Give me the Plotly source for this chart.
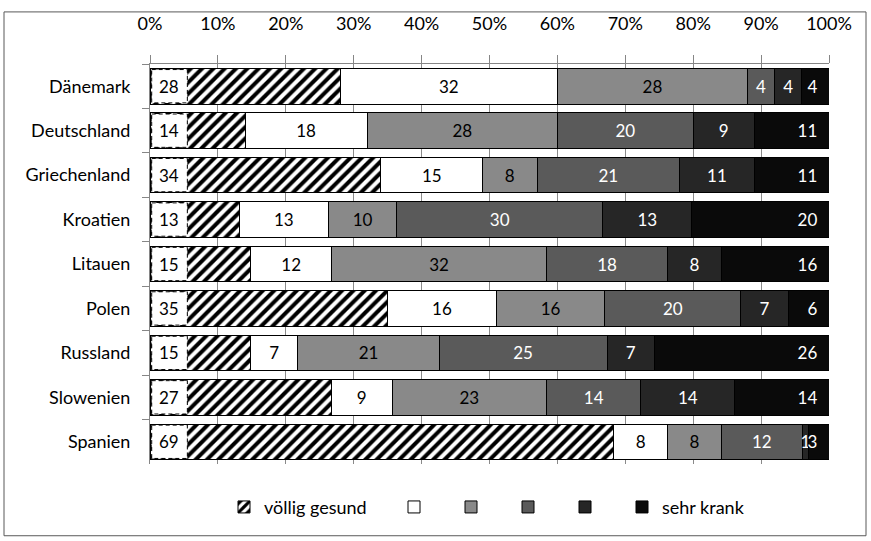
import plotly.graph_objects as go

# Self-rated health by country, shares per answer category (100 % stacked)
countries = ["Dänemark", "Deutschland", "Griechenland", "Kroatien", "Litauen",
             "Polen", "Russland", "Slowenien", "Spanien"]
category_names = ["völlig gesund", "", "", "", "", "sehr krank"]

voellig_gesund = [28, 14, 34, 13, 15, 35, 15, 27, 69]
stufe_2 = [32, 18, 15, 13, 12, 16, 7, 9, 8]
stufe_3 = [28, 28, 8, 10, 32, 16, 21, 23, 8]
stufe_4 = [4, 20, 21, 30, 18, 20, 25, 14, 12]
stufe_5 = [4, 9, 11, 13, 8, 7, 7, 14, 1]
sehr_krank = [4, 11, 11, 20, 16, 6, 26, 14, 3]

x_tick_values = [0, 10, 20, 30, 40, 50, 60, 70, 80, 90, 100]
x_tick_labels = [f"{v}%" for v in x_tick_values]

series = [voellig_gesund, stufe_2, stufe_3, stufe_4, stufe_5, sehr_krank]
fill_colors = ["#ffffff", "#ffffff", "#898989", "#5a5a5a", "#262626", "#0a0a0a"]
text_colors = ["#000000", "#000000", "#000000", "#ffffff", "#ffffff", "#ffffff"]
legend_widths = [125, 12, 12, 12, 12, 110]

W, H = 871, 541
ML, MR, MT, MB = 150, 42, 57, 77
PW, PH = W - ML - MR, H - MT - MB
FONT = "Lato"
NBSP = "\u00a0"

fig = go.Figure()
for i, (vals, name) in enumerate(zip(series, category_names)):
    marker = dict(color=fill_colors[i], line=dict(color="#000000", width=1))
    if i == 0:
        marker["pattern"] = dict(shape="/", fgcolor="#000000", bgcolor="#ffffff",
                                 fgopacity=1, size=8, solidity=0.5)
    last = i == len(series) - 1
    labels = [str(v) + (NBSP * 2 if last else "") for v in vals]
    fig.add_trace(go.Bar(
        y=countries, x=vals, name=name, orientation="h",
        marker=marker,
        text=None if i == 0 else labels,
        textposition="none" if i == 0 else "inside",
        insidetextanchor="end" if last else "middle",
        textangle=0,
        insidetextfont=dict(family=FONT, size=17, color=text_colors[i]),
        legendwidth=legend_widths[i],
        hoverinfo="skip",
    ))

# Labels of the first category sit in white boxes with a dashed frame
box_w = 5.5
shapes = []
annotations = []
for idx, (c, v) in enumerate(zip(countries, voellig_gesund)):
    shapes.append(dict(type="rect", xref="x", yref="y", x0=0.25, x1=box_w,
                       y0=idx - 0.375, y1=idx + 0.375, fillcolor="#ffffff",
                       line=dict(color="#000000", width=1, dash="4px,3px"),
                       layer="above"))
    annotations.append(dict(x=box_w / 2 + 0.1, y=c, xref="x", yref="y", text=str(v),
                            showarrow=False,
                            font=dict(family=FONT, size=17, color="#000000")))


# Outer frame around the whole chart
def px_to_paper_x(px):
    return (px - ML) / PW


def px_to_paper_y(py):
    return (H - MB - py) / PH


shapes.append(dict(type="rect", xref="paper", yref="paper",
                   x0=px_to_paper_x(4), x1=px_to_paper_x(866),
                   y0=px_to_paper_y(537), y1=px_to_paper_y(4),
                   line=dict(color="#595959", width=1), fillcolor="rgba(0,0,0,0)",
                   layer="below"))

fig.update_layout(
    width=W, height=H,
    margin=dict(l=ML, r=MR, t=MT, b=MB, pad=0),
    paper_bgcolor="#ffffff", plot_bgcolor="#ffffff",
    barmode="stack", barnorm="percent", bargap=0.2,
    font=dict(family=FONT, size=18, color="#000000"),
    uniformtext=dict(minsize=17, mode="show"),
    showlegend=True,
    legend=dict(orientation="h", x=px_to_paper_x(224), xanchor="left",
                y=px_to_paper_y(508), yanchor="middle",
                font=dict(family=FONT, size=18, color="#000000"),
                traceorder="normal", itemwidth=30, bgcolor="rgba(0,0,0,0)"),
    xaxis=dict(side="top", range=[0, 100], tickvals=x_tick_values,
               ticktext=x_tick_labels, showgrid=True, gridcolor="#8a8a8a",
               gridwidth=1, showline=True, linecolor="#868686", linewidth=1,
               ticks="outside", ticklen=8, tickcolor="#868686",
               ticklabelstandoff=18, zeroline=False, fixedrange=True),
    yaxis=dict(categoryorder="array", categoryarray=countries, autorange="reversed",
               showline=True, linecolor="#868686", linewidth=1,
               ticks="outside", ticklen=7, tickcolor="#868686",
               tickson="boundaries", ticklabelstandoff=15, showgrid=False,
               fixedrange=True),
    shapes=shapes,
    annotations=annotations,
)

fig.write_html("out.html")
